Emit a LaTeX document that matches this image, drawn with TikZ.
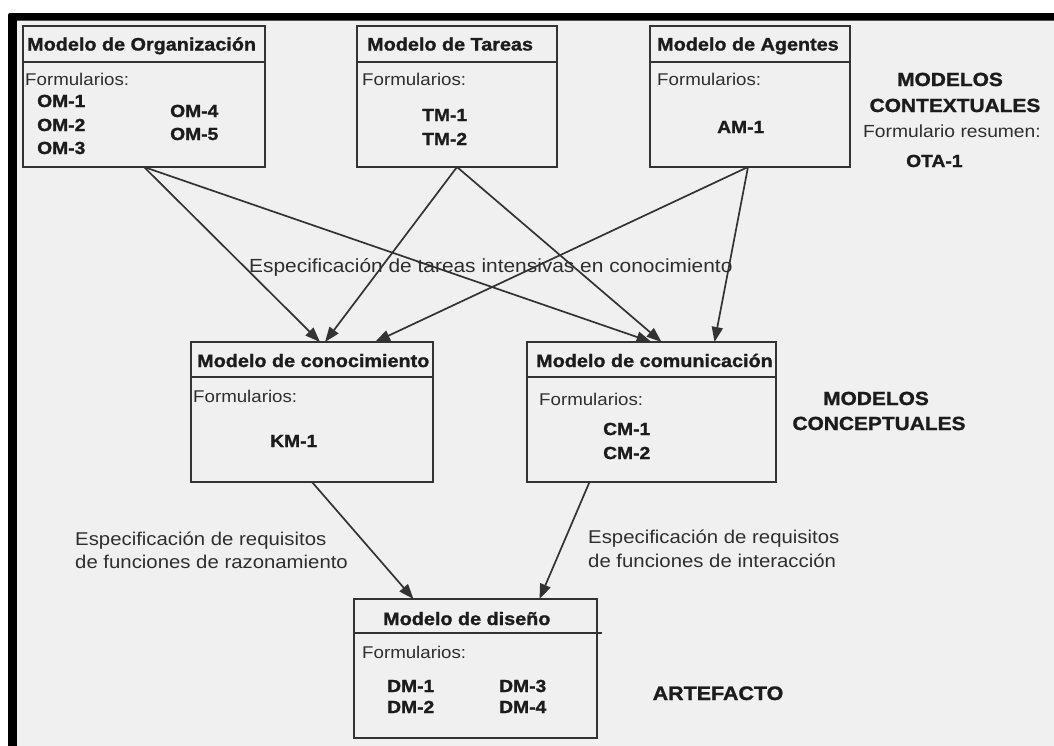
\documentclass[tikz,border=0pt]{standalone}
\usepackage{fontspec}
\setmainfont{Liberation Sans}[FakeStretch=1.1, BoldFeatures={FakeBold=1.3}]
\usetikzlibrary{arrows.meta,calc}
\definecolor{paper}{HTML}{F0F0F0}
\definecolor{ink}{HTML}{1C1C1C}
\definecolor{soft}{HTML}{2E2E2E}
\definecolor{edge}{HTML}{333333}
\newcommand{\fsz}[1]{\fontsize{#1}{#1}\selectfont}

\begin{document}
\begin{tikzpicture}[x=1pt,y=-1pt,
  box/.style={draw=edge, line width=2.2pt, fill=paper, rectangle, anchor=north west, inner sep=0pt, outer sep=0pt},
  rule/.style={draw=edge, line width=2.2pt},
  arr/.style={draw=edge, line width=1.7pt, -{Triangle[length=15pt,width=11pt]}},
  title/.style={text=ink, inner sep=0pt, anchor=base west, font=\fsz{18}\bfseries},
  form/.style={text=soft, inner sep=0pt, anchor=base west, font=\fsz{17}},
  item/.style={text=ink, inner sep=0pt, anchor=base west, font=\fsz{17.5}\bfseries},
  head/.style={text=ink, inner sep=0pt, anchor=base, font=\fsz{19}\bfseries},
  note/.style={text=soft, inner sep=0pt, anchor=base west, font=\fsz{18.5}}]

\useasboundingbox (0,0) rectangle (1054,745);
% page, frame (top and left bars) and grey ground
\fill[white] (0,0) rectangle (1054,745);
\fill[paper] (16,20) rectangle (1070,760);
\fill[black, rounded corners=2pt] (8,13) rectangle (1070,20.5);
\fill[black] (8,16) rectangle (16.5,760);

% contextual models
\node[box, minimum width=242pt, minimum height=141pt] (org) at (23,26) {};
\node[box, minimum width=200pt, minimum height=141pt] (tar) at (357,26) {};
\node[box, minimum width=200pt, minimum height=141pt] (age) at (650,26) {};
\foreach \b in {org,tar,age}
  \draw[rule] ($(\b.north west)+(0,36)$) -- ($(\b.north east)+(0,36)$);

\node[title] (orgt) at (27,50.5) {Modelo de Organización};
\node[form] (orgf) at (25,85) {Formularios:};
\node[item] (om1) at (37,107) {OM-1};
\node[item] (om2) at (37,131) {OM-2};
\node[item] (om3) at (37,154) {OM-3};
\node[item] (om4) at (170,117) {OM-4};
\node[item] (om5) at (170,140) {OM-5};

\node[title] (tart) at (367,50.5) {Modelo de Tareas};
\node[form] (tarf) at (362,85) {Formularios:};
\node[item] (tm1) at (422,121) {TM-1};
\node[item] (tm2) at (422,145) {TM-2};

\node[title] (aget) at (657,50.5) {Modelo de Agentes};
\node[form] (agef) at (657,85) {Formularios:};
\node[item] (am1) at (717,133) {AM-1};

\node[head] (ctx1) at (950,86) {MODELOS};
\node[head] (ctx2) at (955,112) {CONTEXTUALES};
\node[form, font=\fsz{17.5}] (resu) at (863,137) {Formulario resumen:};
\node[item] (ota) at (906,167) {OTA-1};

% conceptual models
\node[box, minimum width=242pt, minimum height=140pt] (con) at (191,342) {};
\node[box, minimum width=249pt, minimum height=140pt] (com) at (527,342) {};
\foreach \b in {con,com}
  \draw[rule] ($(\b.north west)+(0,35)$) -- ($(\b.north east)+(0,35)$);

\node[title] (cont) at (197,367) {Modelo de conocimiento};
\node[form] (conf) at (193,402) {Formularios:};
\node[item] (km1) at (270,447) {KM-1};

\node[title] (comt) at (536,367) {Modelo de comunicación};
\node[form] (comf) at (539,405) {Formularios:};
\node[item] (cm1) at (603,435) {CM-1};
\node[item] (cm2) at (603,459) {CM-2};

\node[head] (cpt1) at (876,405) {MODELOS};
\node[head] (cpt2) at (879,430) {CONCEPTUALES};

% design model
\node[box, minimum width=243pt, minimum height=139pt] (dis) at (354,599) {};
\draw[rule] ($(dis.north west)+(0,34)$) -- ($(dis.north east)+(5,34)$);
\node[title] (dist) at (383,625) {Modelo de diseño};
\node[form] (disf) at (362,658) {Formularios:};
\node[item] (dm1) at (387,692) {DM-1};
\node[item] (dm2) at (387,713) {DM-2};
\node[item] (dm3) at (499,692) {DM-3};
\node[item] (dm4) at (499,713) {DM-4};
\node[head, font=\fsz{19.5}\bfseries] (art) at (718,700) {ARTEFACTO};

% connectors
\draw[arr] (org.south) -- ([xshift=8pt]con.north);
\draw[arr] (org.south) -- (com.north);
\draw[arr] (tar.south) -- ([xshift=13pt]con.north);
\draw[arr] (tar.south) -- ([xshift=10pt]com.north);
\draw[arr] ([xshift=-2pt]age.south) -- ([xshift=63pt]con.north);
\draw[arr] ([xshift=-2pt]age.south) -- ([xshift=63pt]com.north);
\draw[arr] (con.south) -- ([xshift=-62pt]dis.north);
\draw[arr] ([xshift=-62pt]com.south) -- ([xshift=64pt]dis.north);

% flow labels
\node[note, font=\fsz{19}] (tk) at (249,272) {Especificación de tareas intensivas en conocimiento};
\node[note] (rz1) at (75,545) {Especificación de requisitos};
\node[note] (rz2) at (75,568) {de funciones de razonamiento};
\node[note] (in1) at (588,543) {Especificación de requisitos};
\node[note] (in2) at (588,567) {de funciones de interacción};
\end{tikzpicture}
\end{document}
